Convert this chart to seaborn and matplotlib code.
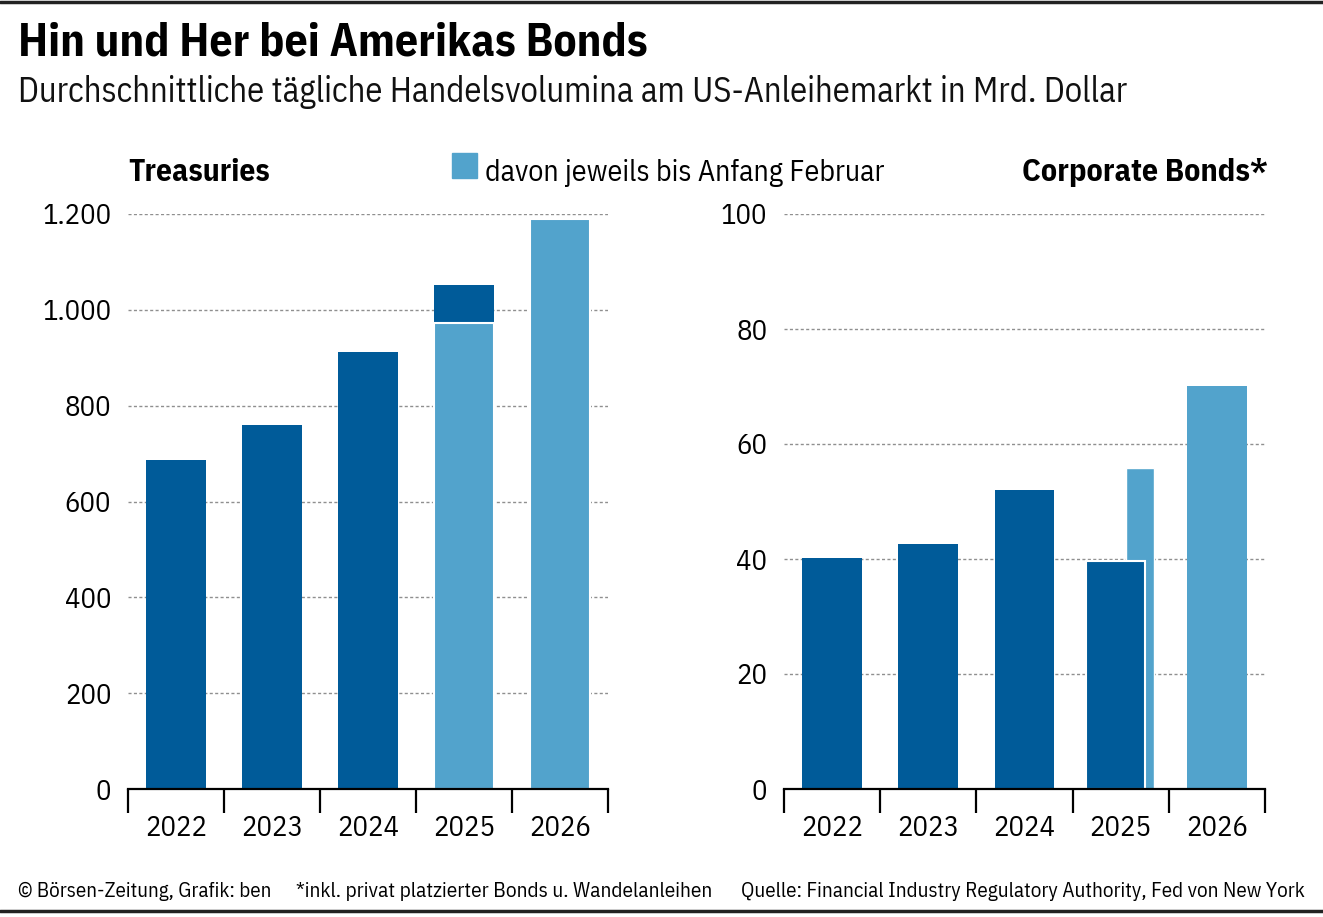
import matplotlib
matplotlib.use("Agg")
import matplotlib.pyplot as plt
from matplotlib.lines import Line2D
from matplotlib.patches import Rectangle
from matplotlib.ticker import FuncFormatter, FixedLocator
import seaborn as sns
import pandas as pd
import numpy as np

# data (Mrd. Dollar, durchschnittlich pro Tag)
years = ["2022", "2023", "2024", "2025", "2026"]
treasuries_full = [687, 760, 912, 1052, np.nan]
treasuries_feb = [np.nan, np.nan, np.nan, 972, 1190]
corporate_full = [40.2, 42.6, 52.0, 39.7, np.nan]
corporate_feb = [np.nan, np.nan, np.nan, 55.9, 70.1]

treasuries_ticks = [0, 200, 400, 600, 800, 1000, 1200]
corporate_ticks = [0, 20, 40, 60, 80, 100]

DARK = "#005b99"
LIGHT = "#52a3cc"
GRID = "#8f8f8f"
W, H = 1323, 917

sns.set_theme(style="white")
FONT = ["IBM Plex Sans Condensed", "Open Sans", "DejaVu Sans"]
plt.rcParams["font.family"] = FONT

fig = plt.figure(figsize=(W / 100, H / 100), dpi=100)
ax1 = fig.add_axes([128 / W, (H - 789) / H, 480 / W, 575 / H])
ax2 = fig.add_axes([784 / W, (H - 789) / H, 481 / W, 575 / H])
renderer = fig.canvas.get_renderer()


def fit(txt, width_px):
    # scale the font so the text gets the width seen in the reference
    bb = txt.get_window_extent(renderer)
    txt.set_fontsize(txt.get_fontsize() * width_px / bb.width)
    return txt


def size_for(s, width_px, **kw):
    t = fig.text(0, 0, s, fontsize=20, **kw)
    fit(t, width_px)
    fs = t.get_fontsize()
    t.remove()
    return fs


tick_fs = size_for("1.200", 69)
year_fs = size_for("2022", 62)


def de_fmt(v, pos):
    return f"{v:,.0f}".replace(",", ".")


def style_axis(ax, ticks):
    ax.set_xlim(-0.5, 4.5)
    ax.set_ylim(0, ticks[-1])
    ax.set_yticks(ticks)
    ax.yaxis.set_major_formatter(FuncFormatter(de_fmt))
    ax.set_axisbelow(True)
    ax.grid(axis="y", color=GRID, linestyle=(0, (2.2, 1.7)), linewidth=1.0)
    ax.grid(axis="x", visible=False)
    for s in ["left", "right", "top"]:
        ax.spines[s].set_visible(False)
    ax.spines["bottom"].set_color("black")
    ax.spines["bottom"].set_linewidth(1.6)
    ax.spines["bottom"].set_zorder(5)
    ax.set_xticks(range(len(years)))
    ax.set_xticklabels(years)
    ax.xaxis.set_minor_locator(FixedLocator(np.arange(-0.5, 5, 1)))
    ax.tick_params(axis="x", which="major", length=0, pad=19, labelsize=year_fs, labelcolor="black")
    ax.tick_params(axis="x", which="minor", length=17, width=1.6, color="black", direction="out", bottom=True)
    ax.tick_params(axis="y", length=0, pad=12, labelsize=tick_fs, labelcolor="black")
    ax.set_xlabel("")
    ax.set_ylabel("")


# Treasuries
df_t = pd.DataFrame({"Jahr": years, "Gesamt": treasuries_full, "Feb": treasuries_feb})
sns.barplot(data=df_t, x="Jahr", y="Gesamt", order=years, color=DARK, width=0.62,
            saturation=1, edgecolor="none", ax=ax1)
sns.barplot(data=df_t, x="Jahr", y="Feb", order=years, color=LIGHT, width=0.62,
            saturation=1, edgecolor="white", linewidth=1.5, ax=ax1)
style_axis(ax1, treasuries_ticks)

# Corporate Bonds
df_c = pd.DataFrame({"Jahr": years, "Gesamt": corporate_full, "Feb": corporate_feb})
df_c_main = df_c.copy()
df_c_main.loc[df_c_main["Jahr"] == "2025", ["Gesamt", "Feb"]] = np.nan
sns.barplot(data=df_c_main, x="Jahr", y="Gesamt", order=years, color=DARK, width=0.62,
            saturation=1, edgecolor="none", ax=ax2)
sns.barplot(data=df_c_main, x="Jahr", y="Feb", order=years, color=LIGHT, width=0.62,
            saturation=1, edgecolor="none", ax=ax2)
i25 = years.index("2025")
ax2.bar(i25 + 0.2, corporate_feb[i25], width=0.29, color=LIGHT, zorder=2)
ax2.bar(i25 - 0.055, corporate_full[i25], width=0.62, color=DARK, edgecolor="white",
        linewidth=1.5, zorder=3)
style_axis(ax2, corporate_ticks)

# texts
fit(fig.text(18 / W, 1 - 55 / H, "Hin und Her bei Amerikas Bonds", fontsize=30,
             fontweight="bold", va="baseline", ha="left", color="black"), 630)
fit(fig.text(18 / W, 1 - 102 / H,
             "Durchschnittliche tägliche Handelsvolumina am US-Anleihemarkt in Mrd. Dollar",
             fontsize=22, va="baseline", ha="left", color="#111111"), 1112)
fit(fig.text(128 / W, 1 - 181 / H, "Treasuries", fontsize=20, fontweight="bold",
             va="baseline", ha="left", color="black"), 142)
fit(fig.text(1268 / W, 1 - 181 / H, "Corporate Bonds*", fontsize=20, fontweight="bold",
             va="baseline", ha="right", color="black"), 246)
fig.add_artist(Rectangle((452 / W, 1 - 178 / H), 25 / W, 25 / H,
                         transform=fig.transFigure, color=LIGHT))
fit(fig.text(485 / W, 1 - 181 / H, "davon jeweils bis Anfang Februar", fontsize=20,
             va="baseline", ha="left", color="black"), 400)

fit(fig.text(18 / W, 1 - 897 / H, "© Börsen-Zeitung, Grafik: ben", fontsize=15,
             va="baseline", ha="left", color="black"), 254)
fit(fig.text(296 / W, 1 - 897 / H, "*inkl. privat platzierter Bonds u. Wandelanleihen",
             fontsize=15, va="baseline", ha="left", color="black"), 419)
fit(fig.text(1305 / W, 1 - 897 / H,
             "Quelle: Financial Industry Regulatory Authority, Fed von New York",
             fontsize=15, va="baseline", ha="right", color="black"), 565)

fig.add_artist(Line2D([0, 1], [1 - 1.5 / H, 1 - 1.5 / H], transform=fig.transFigure,
                      color="#222222", linewidth=2.5))
fig.add_artist(Line2D([0, 1], [(H - 911) / H, (H - 911) / H], transform=fig.transFigure,
                      color="#222222", linewidth=2.5))

fig.savefig("out.png", dpi=100, facecolor="white")
